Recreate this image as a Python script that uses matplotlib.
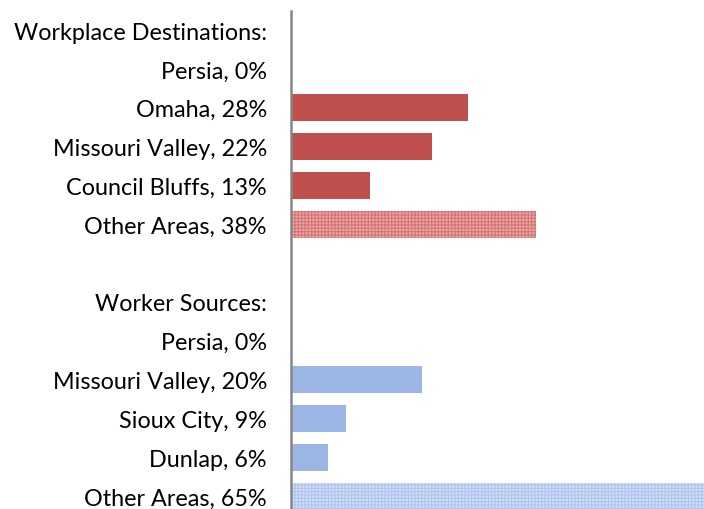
import matplotlib
matplotlib.use("Agg")
import matplotlib.pyplot as plt

labels = ["Workplace Destinations:", "Persia, 0%", "Omaha, 28%", "Missouri Valley, 22%",
          "Council Bluffs, 13%", "Other Areas, 38%", "", "Worker Sources:", "Persia, 0%",
          "Missouri Valley, 20%", "Sioux City, 9%", "Dunlap, 6%", "Other Areas, 65%"]
values = [0, 0, 28.0, 22.4, 12.6, 38.7, 0, 0, 0, 20.7, 8.8, 6.0, 65.5]
kinds = ["h", "r", "r", "r", "r", "rp", "h", "h", "b", "b", "b", "b", "bp"]

RED = "#C0504D"
BLUE = "#9BB5E4"

plt.rcParams['font.family'] = ['Lato', 'DejaVu Sans']
plt.rcParams['hatch.linewidth'] = 0.8
fig = plt.figure(figsize=(7.04, 5.10), dpi=100)
ax = fig.add_axes([290.5/704, -6.6/510, 1 - 290.5/704, 1 - 11.6/510 + 6.6/510])

ys = list(range(len(labels)))
for y, v, k in zip(ys, values, kinds):
    if v <= 0:
        continue
    if k == "r":
        ax.barh(y, v, height=0.7, color=RED, linewidth=0)
    elif k == "b":
        ax.barh(y, v, height=0.7, color=BLUE, linewidth=0)
    elif k == "rp":
        ax.barh(y, v, height=0.7, facecolor="#E9A9A8", edgecolor="#D47573",
                hatch="+++++", linewidth=0)
    elif k == "bp":
        ax.barh(y, v, height=0.7, facecolor="#D3DFF6", edgecolor="#AFC5EE",
                hatch="+++++", linewidth=0)

ax.set_ylim(len(labels) - 0.5, -0.5)
ax.set_xlim(0, 65.3)
ax.set_yticks(ys)
ax.set_yticklabels(labels, fontsize=16.8)
ax.tick_params(axis='y', length=0, pad=17)
ax.set_xticks([])
for s in ["top", "right", "bottom"]:
    ax.spines[s].set_visible(False)
ax.spines["left"].set_color("#868686")
ax.spines["left"].set_linewidth(1.8)

fig.savefig("out.png", dpi=100)
